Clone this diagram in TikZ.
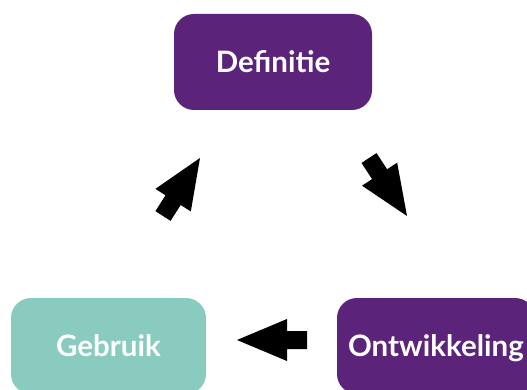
\documentclass[tikz,border=0pt]{standalone}
\usepackage{fontspec}
\setmainfont{Lato}
\usetikzlibrary{calc}
\definecolor{purp}{RGB}{91,35,122}
\definecolor{tealbox}{RGB}{137,203,191}
\newcommand\blockarrow[2]{%
  \coordinate (hb) at ($(#2)!50pt!(#1)$);
  \fill[black] ($(#1)!9pt!90:(#2)$) -- ($(hb)!9pt!90:(#2)$) -- ($(hb)!21pt!90:(#2)$) -- (#2)
     -- ($(hb)!21pt!-90:(#2)$) -- ($(hb)!9pt!-90:(#2)$) -- ($(#1)!9pt!-90:(#2)$) -- cycle;}
\begin{document}
\begin{tikzpicture}[x=1pt,y=-1pt,
  box/.style={rounded corners=20pt, minimum width=198pt, minimum height=96pt, inner sep=0pt,
    text height=21pt, text depth=0pt,
    font=\fontsize{29.5}{34}\selectfont\bfseries, text=white}]
\useasboundingbox (0,0) rectangle (527,390);
\clip (0,0) rectangle (527,390);
\node[box, fill=purp] (def) at (273,62) {Definitie};
\node[box, fill=tealbox, minimum width=195pt] (geb) at (108.5,346) {Gebruik};
\node[box, fill=purp] (ont) at (436,346) {Ontwikkeling};
\coordinate (a1s) at (163,216); \coordinate (a1e) at (200,158);
\coordinate (a2s) at (369,158); \coordinate (a2e) at (407,216);
\coordinate (a3s) at (307,340); \coordinate (a3e) at (237,340);
\blockarrow{a1s}{a1e}
\blockarrow{a2s}{a2e}
\blockarrow{a3s}{a3e}
\end{tikzpicture}
\end{document}
